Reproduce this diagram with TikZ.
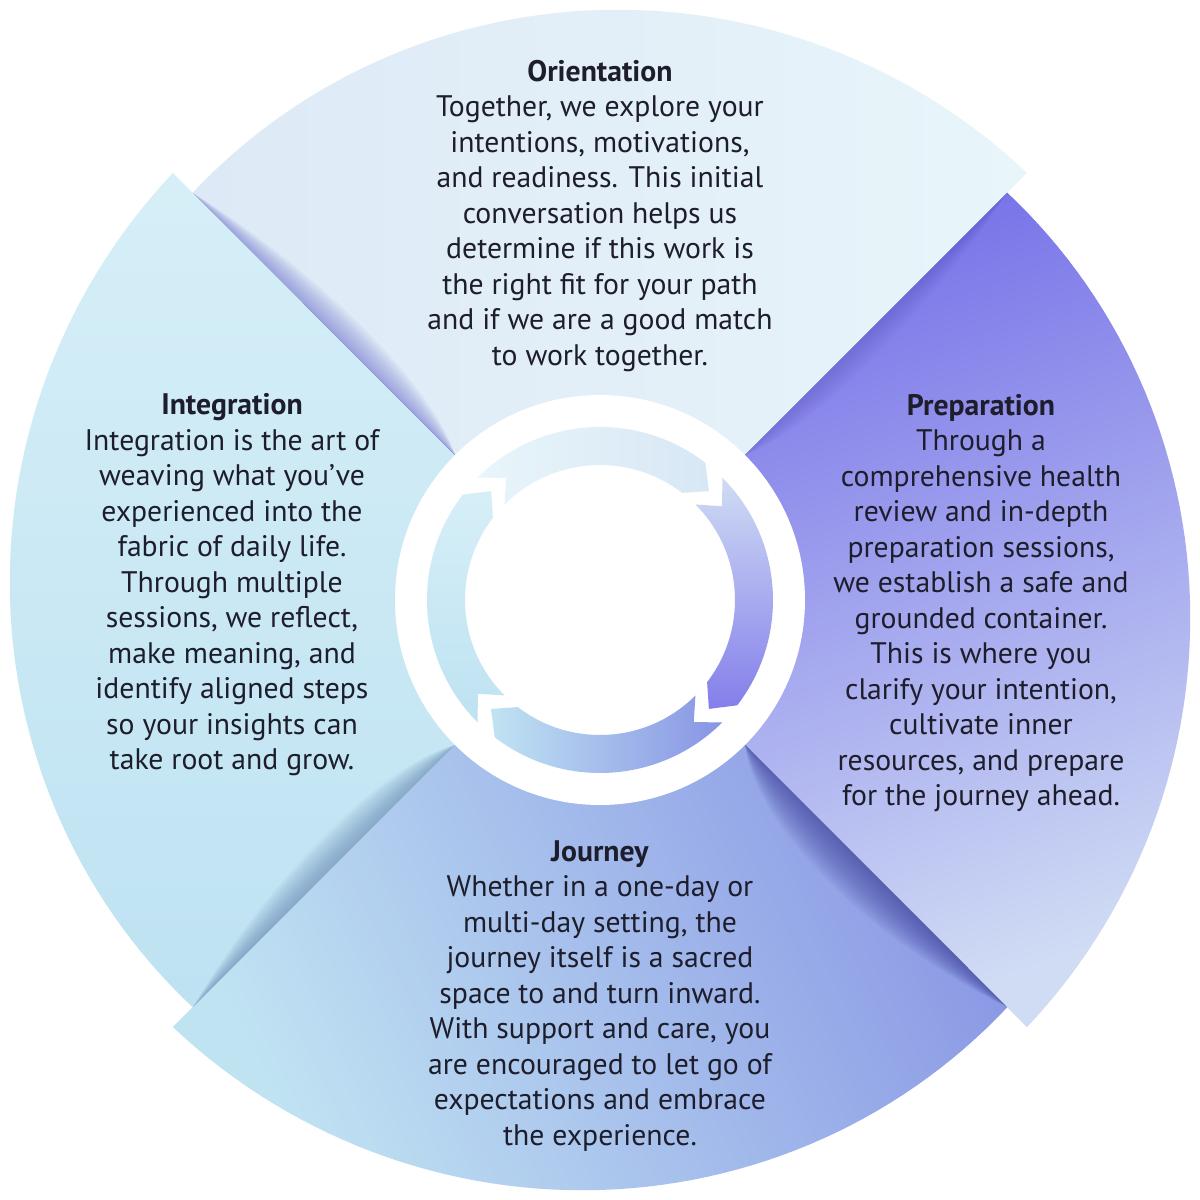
\documentclass[tikz,border=0pt]{standalone}
\usepackage{fontspec}
\setmainfont{PT Sans}
\definecolor{textcol}{HTML}{1D1D2B}
\definecolor{topL}{HTML}{DDE9F6}
\definecolor{topR}{HTML}{E8F5FA}
\definecolor{segTopR}{HTML}{D8E7F5}
\definecolor{rDark}{HTML}{7670E8}
\definecolor{rLight}{HTML}{D0DCF4}
\definecolor{bDark}{HTML}{8794E4}
\definecolor{bLight}{HTML}{C0E3F2}
\definecolor{lTop}{HTML}{D6EFF7}
\definecolor{lBot}{HTML}{BEE2F2}
\definecolor{shTop}{HTML}{6E72D0}
\definecolor{shBot}{HTML}{3E3F98}
\definecolor{shLeft}{HTML}{5F80B0}
\definecolor{shRight}{HTML}{5F58D8}
\newcommand\secpath[1]{(0,0) -- plot[domain=0:90, samples=61] ({(576+28*\x/90)*cos(#1-\x)}, {(576+28*\x/90)*sin(#1-\x)}) -- cycle}
\newcommand\arrowseg[1]{(#1:173) arc[start angle=#1, end angle=#1-82.5, radius=173] -- (#1-90:154) -- (#1-82.5:135) arc[start angle=#1-82.5, end angle=#1, radius=135] -- (#1-7.5:154) -- cycle}
\newcommand\shadowlens[4]{%
  \foreach \w in {1,...,20}{%
    \fill[#2, opacity=#4, rotate=#1] (205,0) .. controls (270,-#3*\w/20) and (430,-#3*\w/20) .. (575,0) -- cycle;}}
\tikzset{
  txt/.style={align=center, text=textcol, font=\fontsize{29.7}{35.5}\selectfont, inner sep=0pt}
}
\begin{document}
\begin{tikzpicture}[x=1pt,y=1pt]
\useasboundingbox (-600,-600) rectangle (600,600);
\fill[white] (-600,-600) rectangle (600,600);
% sectors
\shade[left color=topL, right color=topR] \secpath{135};
\shade[top color=rDark, bottom color=rLight, shading angle=20] \secpath{45};
\shade[top color=bDark, bottom color=bLight, shading angle=-64] \secpath{-45};
\shade[top color=lTop, bottom color=lBot] \secpath{-135};
% shadows
\shadowlens{135}{shTop}{34}{0.035}
\shadowlens{-45}{shBot}{50}{0.045}
\shadowlens{-135}{shLeft}{38}{0.035}
\shadowlens{45}{shRight}{30}{0.025}
\draw[shTop, opacity=0.35, line width=1pt, rotate=135] (205,0) -- (420,0);
\draw[shBot, opacity=0.35, line width=1pt, rotate=-45] (205,0) -- (520,0);
% centre ring
\fill[white] (0,0) circle (205);
\shade[left color=topR, right color=segTopR] \arrowseg{135};
\shade[top color=rLight, bottom color=rDark!90!white] \arrowseg{45};
\shade[left color=bLight, right color=bDark] \arrowseg{-45};
\shade[top color=lTop, bottom color=lBot] \arrowseg{-135};
% texts
\node[txt] (orient) at (0,384) {\textbf{Orientation}\\
Together, we explore your\\
intentions, motivations,\\
and readiness. This initial\\
conversation helps us\\
determine if this work is\\
the right fit for your path\\
and if we are a good match\\
to work together.};
\node[txt] (integ) at (-368,15) {\textbf{Integration}\\
Integration is the art of\\
weaving what you’ve\\
experienced into the\\
fabric of daily life.\\
Through multiple\\
sessions, we reflect,\\
make meaning, and\\
identify aligned steps\\
so your insights can\\
take root and grow.};
\node[txt] (prep) at (381,-3) {\textbf{Preparation}\\
Through a\\
comprehensive health\\
review and in-depth\\
preparation sessions,\\
we establish a safe and\\
grounded container.\\
This is where you\\
clarify your intention,\\
cultivate inner\\
resources, and prepare\\
for the journey ahead.};
\node[txt] (journ) at (0,-396) {\textbf{Journey}\\
Whether in a one-day or\\
multi-day setting, the\\
journey itself is a sacred\\
space to and turn inward.\\
With support and care, you\\
are encouraged to let go of\\
expectations and embrace\\
the experience.};
\end{tikzpicture}
\end{document}
